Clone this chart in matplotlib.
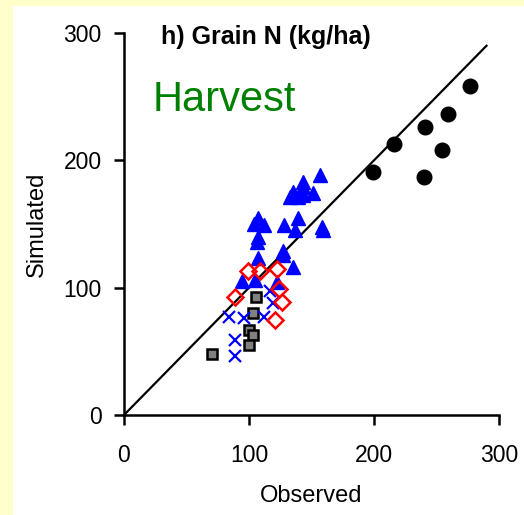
import matplotlib
matplotlib.use("Agg")
import matplotlib.pyplot as plt

plt.rcParams['font.family'] = ['Liberation Sans', 'DejaVu Sans']

# Data (observed, simulated)
circ_obs = [277, 259, 241, 216, 254, 199, 240]
circ_sim = [258, 236, 226, 213, 208, 191, 187]

tri_obs = [156.5, 143.5, 143.5, 135.5, 133, 151.5, 143.5, 139.5,
           107, 139, 112, 104, 128, 158, 159, 137, 107, 106, 127, 127.5,
           107, 135, 94, 105, 122.5]
tri_sim = [188.5, 183, 179, 175, 171.5, 174, 173, 171.5,
           155, 155, 149, 150, 149, 148, 145, 145, 140, 136, 129, 126,
           123, 116, 105, 106, 104.5]

dia_obs = [99.5, 109, 122.5, 89, 124, 126, 121]
dia_sim = [113, 113, 115, 93, 99, 89, 75]

x_obs = [84, 96, 112, 117, 119, 89, 89]
x_sim = [77, 76, 77, 97, 88, 59, 46]

sq_obs = [105.5, 103.5, 100, 103.5, 100, 70]
sq_sim = [93, 80, 67, 63, 55, 48]

line_x = [0, 290]
line_y = [0, 290]

ticks = [0, 100, 200, 300]
title = "h) Grain N (kg/ha)"
label_text = "Harvest"

fig = plt.figure(figsize=(5.24, 5.15), dpi=100, facecolor='#FFFFCC')
bg = fig.add_axes([13/524, 0, 1 - 13/524, (515-6)/515], zorder=-5)
bg.set_axis_off()
bg.add_patch(plt.Rectangle((0, 0), 1, 1, transform=bg.transAxes, facecolor='white', edgecolor='none'))

ax = fig.add_axes([124/524, 1-415/515, 375/524, 382/515], zorder=1)
ax.set_facecolor('none')

ax.plot(line_x, line_y, color='black', lw=1.6, zorder=2)
ax.plot(circ_obs, circ_sim, 'o', color='black', ms=10.5, zorder=3, clip_on=False)
ax.plot(tri_obs, tri_sim, '^', color='#0000FF', ms=10, zorder=3)
ax.plot(sq_obs, sq_sim, 's', color='#808080', mec='black', mew=1.8, ms=6.5, zorder=3)
ax.plot(x_obs, x_sim, 'x', color='#0000FF', ms=8.5, mew=1.6, zorder=3)
ax.plot(dia_obs, dia_sim, 'D', mfc='none', mec='#FF0000', mew=1.8, ms=8.5, zorder=4)

ax.set_xlim(0, 300)
ax.set_ylim(0, 300)
ax.set_xticks(ticks)
ax.set_yticks(ticks)
ax.tick_params(labelsize=16.5, length=7, width=1.8, direction='out')
ax.tick_params(axis='x', pad=14)
ax.tick_params(axis='y', pad=9)
for s in ['top', 'right']:
    ax.spines[s].set_visible(False)
for s in ['left', 'bottom']:
    ax.spines[s].set_linewidth(1.8)

ax.set_xlabel('Observed', fontsize=17, labelpad=12.5)
ax.set_ylabel('Simulated', fontsize=17, labelpad=11)

ax.text(0.379, 0.99, title, transform=ax.transAxes, ha='center', va='center',
        fontsize=18, fontweight='bold')
ax.text(0.075, 0.825, label_text, transform=ax.transAxes, ha='left', va='center',
        fontsize=30, color='#008000')

fig.savefig('out.png', dpi=100, facecolor=fig.get_facecolor())
